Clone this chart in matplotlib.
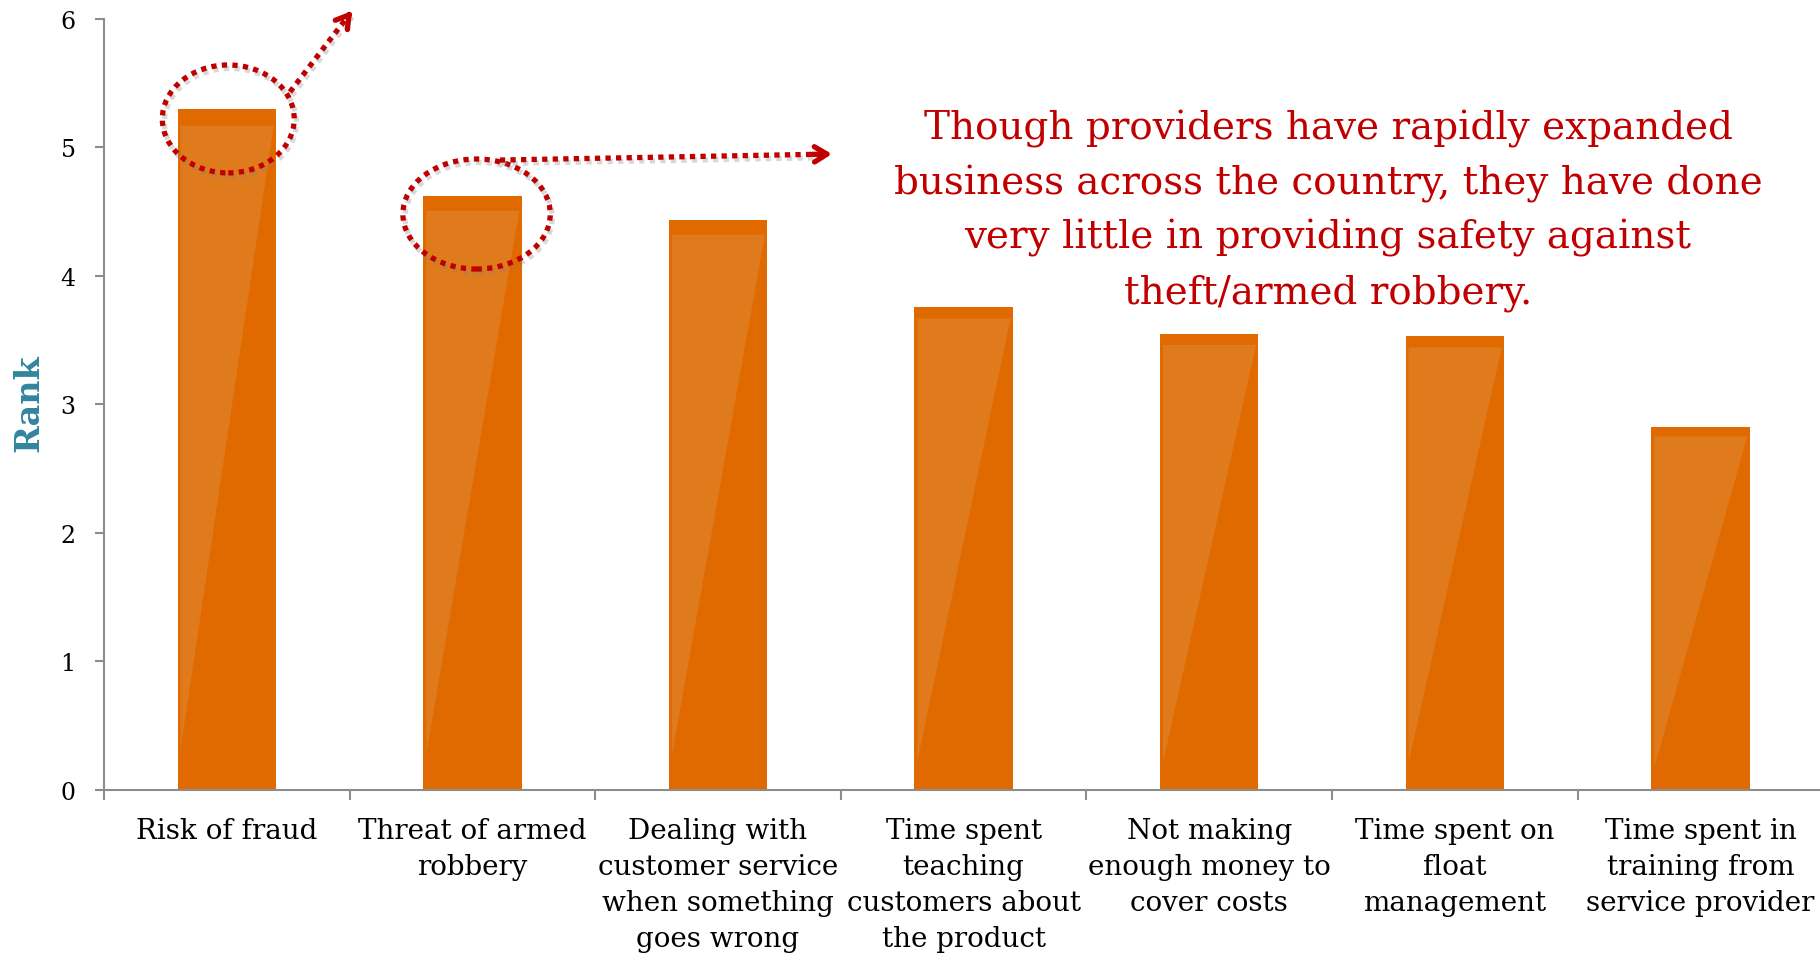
import matplotlib
matplotlib.use("Agg")
import matplotlib.pyplot as plt
from matplotlib.patches import Ellipse, Polygon
import matplotlib.patheffects as pe
import numpy as np

categories = [
    "Risk of fraud",
    "Threat of armed\nrobbery",
    "Dealing with\ncustomer service\nwhen something\ngoes wrong",
    "Time spent\nteaching\ncustomers about\nthe product",
    "Not making\nenough money to\ncover costs",
    "Time spent on\nfloat\nmanagement",
    "Time spent in\ntraining from\nservice provider",
]
values = [5.30, 4.62, 4.43, 3.76, 3.55, 3.53, 2.82]
yticks = [0, 1, 2, 3, 4, 5, 6]
note = ("Though providers have rapidly expanded\n"
        "business across the country, they have done\n"
        "very little in providing safety against\n"
        "theft/armed robbery.")

BAR = "#E06A00"
LIGHT = "#E07B1D"
RED = "#C00000"
TEAL = "#31859C"
GRAY = "#8C8C8C"
FONT = "DejaVu Serif"

fig = plt.figure(figsize=(18.2, 9.54), dpi=100)
ax = fig.add_axes([104/1820, 1 - 790.7/954, 7*245.6/1820, (790.7-19.7)/954])
ax.set_xlim(-0.5, 6.5)
ax.set_ylim(0, 6)

x = np.arange(len(values))
w = 0.40
ax.bar(x, values, width=w, color=BAR, zorder=2)
inset_l, inset_r = 0.012, 0.009
for xi, v in zip(x, values):
    top = v * 0.975
    bot = v * 0.06
    poly = Polygon([(xi - w/2 + inset_l, top), (xi + w/2 - inset_r, top),
                    (xi - w/2 + inset_l, bot)], closed=True,
                   facecolor=LIGHT, edgecolor="none", zorder=3)
    ax.add_patch(poly)

for s in ["top", "right"]:
    ax.spines[s].set_visible(False)
for s in ["left", "bottom"]:
    ax.spines[s].set_color(GRAY)
    ax.spines[s].set_linewidth(1.5)
ax.spines["bottom"].set_zorder(4)

ax.set_yticks(yticks)
ax.set_yticklabels([str(t) for t in yticks], fontfamily=FONT, fontsize=17)
ax.tick_params(axis="y", length=6.5, width=1.5, color=GRAY, pad=14)

ax.set_xticks(x)
ax.set_xticklabels(categories, fontfamily=FONT, fontsize=20)
ax.set_xticks(np.arange(-0.5, 7.0, 1.0), minor=True)
ax.tick_params(axis="x", which="major", length=0, pad=19.5)
ax.tick_params(axis="x", which="minor", length=7.5, width=1.5, color=GRAY)
for lbl in ax.get_xticklabels():
    lbl.set_linespacing(1.43)

ax.set_ylabel("Rank", fontfamily=FONT, fontsize=24, fontweight="bold", color=TEAL)
ax.yaxis.set_label_coords(-0.0339, (790.7-403)/771, transform=ax.transAxes)

# annotation text (last line baseline anchored)
fig.text(1328/1820, 1 - 303/954, note, ha="center", va="baseline",
         fontfamily=FONT, fontsize=28, color=RED, linespacing=1.57)

# dotted ellipses and arrows
lshadow = [pe.SimpleLineShadow(offset=(1.5, -2.5), shadow_color="#808080", alpha=0.3), pe.Normal()]
dot = (0, (1, 1))
e1 = Ellipse((0.006, values[0] - 0.08), 0.537, 0.84, fill=False, edgecolor=RED,
             lw=3.8, ls=dot, zorder=6, clip_on=False)
e1.set_path_effects(lshadow)
ax.add_patch(e1)
e2 = Ellipse((1.017, values[1] - 0.14), 0.60, 0.856, fill=False, edgecolor=RED,
             lw=3.8, ls=dot, zorder=6, clip_on=False)
e2.set_path_effects(lshadow)
ax.add_patch(e2)

arrows = [((0.257, 5.43), (0.51, 6.06)), ((1.112, 4.90), (2.464, 4.947))]
for (x0, y0), (x1, y1) in arrows:
    ax.plot([x0, x1 - (x1-x0)*0.03], [y0, y1 - (y1-y0)*0.03], color=RED, lw=3.8, ls=dot,
            dash_capstyle="butt", clip_on=False, zorder=6, path_effects=lshadow)
    ax.annotate("", xy=(x1, y1), xytext=(x1 - (x1-x0)*0.06, y1 - (y1-y0)*0.06),
                arrowprops=dict(arrowstyle="->,head_length=0.9,head_width=0.55",
                                color=RED, lw=3.8, shrinkA=0, shrinkB=0),
                annotation_clip=False, zorder=6)

fig.savefig("out.png", dpi=100)
